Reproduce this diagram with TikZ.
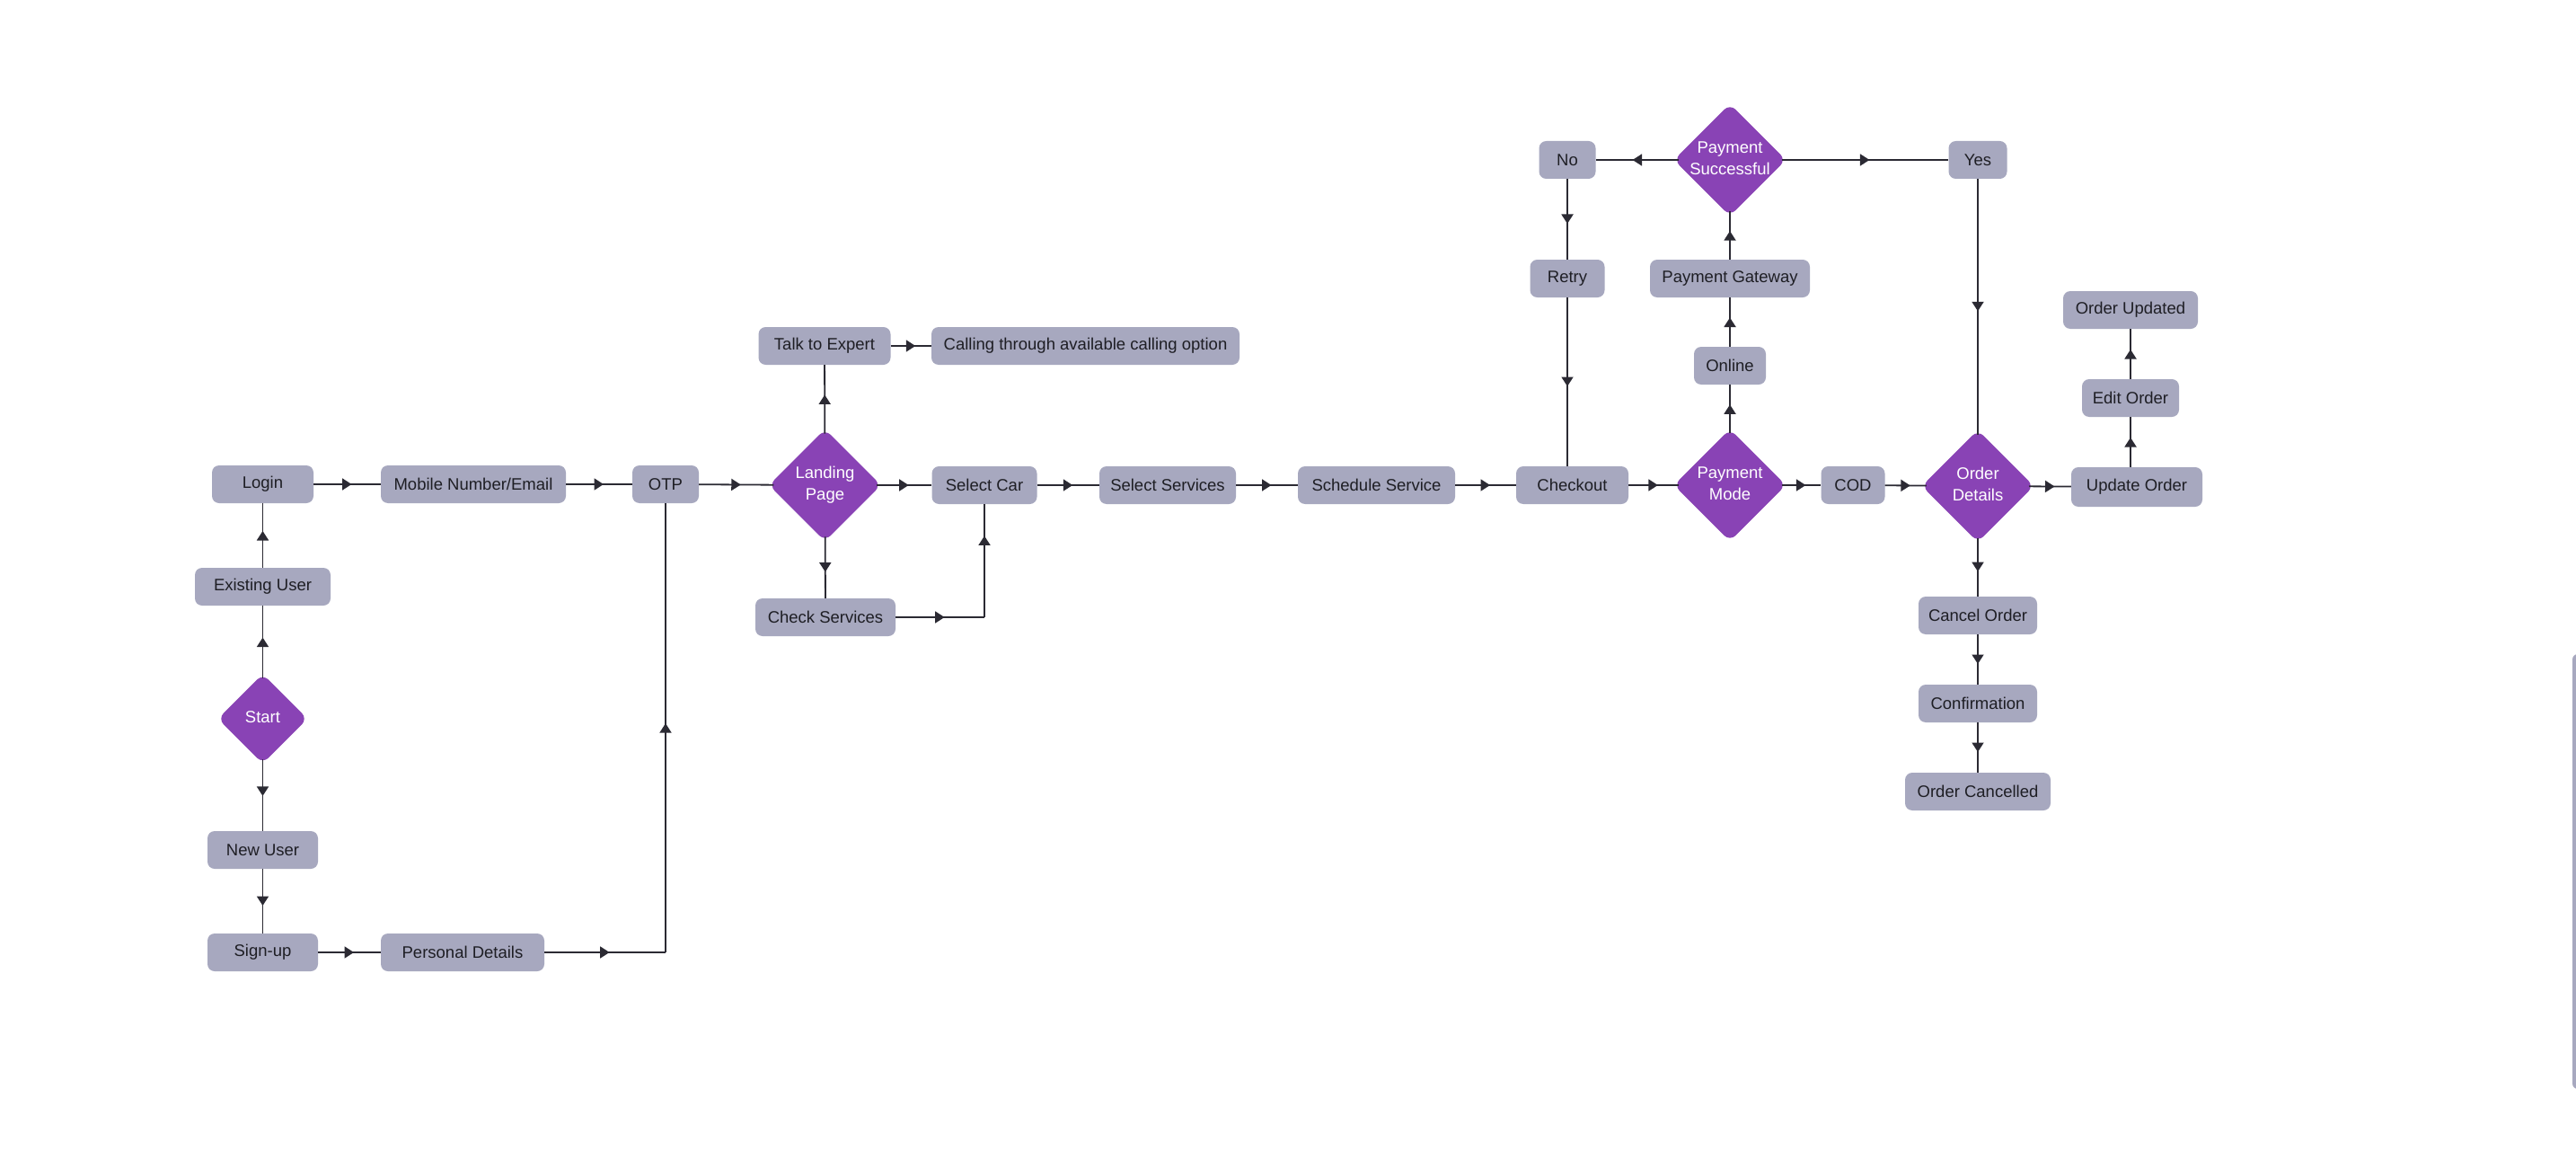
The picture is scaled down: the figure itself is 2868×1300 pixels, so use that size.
\documentclass[tikz,border=0pt]{standalone}
\usepackage{fontspec}
\setmainfont{Liberation Sans}
\usepackage{tikz}
\usetikzlibrary{shapes.geometric,arrows.meta,decorations.markings}
\definecolor{fcink}{HTML}{1E1E24}
\definecolor{fcline}{HTML}{2B2A33}
\definecolor{fcgrey}{HTML}{A7A8BF}
\definecolor{fcpurple}{HTML}{8943B5}
\tikzstyle{procbox} = [fill=fcgrey, rounded corners=8pt, minimum height=42pt, inner sep=0pt, text=fcink, font=\fontsize{18.5}{24}\selectfont]
\tikzstyle{decision} = [shape=diamond, aspect=1, fill=fcpurple, rounded corners=9pt, minimum width=122pt, minimum height=122pt, inner sep=0pt, outer sep=-3.5pt, text=white, font=\fontsize{18.5}{24}\selectfont]
\newcommand{\dtxt}[1]{\makebox[0pt]{\begin{tabular}{@{}c@{}}#1\end{tabular}}}
\tikzset{
  % the head sits part way along every straight run, not at the end
  flow/.style={draw=fcline, color=fcline, line width=1.8pt, postaction={decorate},
    decoration={markings, mark=at position #1 with {\arrow[xshift=5pt]{Triangle[length=10.5pt,width=13pt]}}}},
  flow/.default=0.5,
}

\begin{document}
\begin{tikzpicture}[x=1pt, y=-1pt]
    \useasboundingbox[fill=white] (0,0) rectangle (2868,1300);
    \draw (292.5,800) node[decision, minimum width=97pt, minimum height=97pt] (start) {\dtxt{Start}};
    \draw (292.5,653) node[procbox, minimum width=151pt] (existing) {Existing User};
    \draw (292.5,539) node[procbox, minimum width=113pt] (login) {Login};
    \draw (292.5,946) node[procbox, minimum width=123pt] (newuser) {New User};
    \draw (292.5,1060) node[procbox, minimum width=123pt] (signup) {Sign-up};
    \draw (527,539) node[procbox, minimum width=206pt] (mobile) {Mobile Number/Email};
    \draw (515,1060) node[procbox, minimum width=182pt] (personal) {Personal Details};
    \draw (741,539) node[procbox, minimum width=74pt] (otp) {OTP};
    \draw (918.5,540) node[decision] (landing) {\dtxt{Landing\\Page}};
    \draw (918,385) node[procbox, minimum width=147pt] (talk) {Talk to Expert};
    \draw (1208.5,385) node[procbox, minimum width=343pt] (calling) {Calling through available calling option};
    \draw (919,687) node[procbox, minimum width=156pt] (checkserv) {Check Services};
    \draw (1096,540) node[procbox, minimum width=117pt] (selcar) {Select Car};
    \draw (1300,540) node[procbox, minimum width=152pt] (selserv) {Select Services};
    \draw (1532.5,540) node[procbox, minimum width=175pt] (schedule) {Schedule Service};
    \draw (1750.5,540) node[procbox, minimum width=125pt] (checkout) {Checkout};
    \draw (1926,540) node[decision] (paymode) {\dtxt{Payment\\Mode}};
    \draw (2063,540) node[procbox, minimum width=71pt] (cod) {COD};
    \draw (2202,541) node[decision] (orderdet) {\dtxt{Order\\Details}};
    \draw (2379,542) node[procbox, minimum width=146pt, minimum height=44pt] (update) {Update Order};
    \draw (2372,443) node[procbox, minimum width=108pt] (edit) {Edit Order};
    \draw (2372,345) node[procbox, minimum width=150pt] (updated) {Order Updated};
    \draw (2202,685) node[procbox, minimum width=132pt] (cancel) {Cancel Order};
    \draw (2202,783) node[procbox, minimum width=132pt] (confirm) {Confirmation};
    \draw (2202,881) node[procbox, minimum width=162pt] (cancelled) {Order Cancelled};
    \draw (1926,407) node[procbox, minimum width=80pt] (online) {Online};
    \draw (1926,310) node[procbox, minimum width=178pt] (gateway) {Payment Gateway};
    \draw (1926,178) node[decision] (paysucc) {\dtxt{Payment\\Successful}};
    \draw (1745,178) node[procbox, minimum width=63pt] (no) {No};
    \draw (1745,310) node[procbox, minimum width=83pt] (retry) {Retry};
    \draw (2202,178) node[procbox, minimum width=65pt] (yes) {Yes};
    \coordinate (pdturn) at (otp |- personal);
    \coordinate (csturn) at (selcar |- checkserv);
    \fill[fcgrey, rounded corners=6pt] (2864,728) rectangle (2920,1212);
    \draw[flow] (start) -- (existing);
    \draw[flow] (existing) -- (login);
    \draw[flow=0.45] (start) -- (newuser);
    \draw[flow] (newuser) -- (signup);
    \draw[flow] (login) -- (mobile);
    \draw[flow] (mobile) -- (otp);
    \draw[flow] (signup) -- (personal);
    \draw[flow] (personal) -- (pdturn);
    \draw[flow] (pdturn) -- (otp);
    \draw[flow] (otp) -- (landing);
    \draw[flow] (landing) -- (talk);
    \draw[flow] (talk) -- (calling);
    \draw[flow] (landing) -- (checkserv);
    \draw[flow] (landing) -- (selcar);
    \draw[flow] (checkserv) -- (csturn);
    \draw[flow=0.68] (csturn) -- (selcar);
    \draw[flow] (selcar) -- (selserv);
    \draw[flow] (selserv) -- (schedule);
    \draw[flow] (schedule) -- (checkout);
    \draw[flow] (checkout) -- (paymode);
    \draw[flow] (paymode) -- (cod);
    \draw[flow] (cod) -- (orderdet);
    \draw[flow] (orderdet) -- (update);
    \draw[flow] (paymode) -- (online);
    \draw[flow] (online) -- (gateway);
    \draw[flow] (gateway) -- (paysucc);
    \draw[flow] (paysucc) -- (no);
    \draw[flow] (paysucc) -- (yes);
    \draw[flow] (no) -- (retry);
    \draw[flow] (retry) -- (retry |- checkout.north);
    \draw[flow] (yes) -- (orderdet);
    \draw[flow] (orderdet) -- (cancel);
    \draw[flow] (cancel) -- (confirm);
    \draw[flow] (confirm) -- (cancelled);
    \draw[flow] (edit |- update.north) -- (edit);
    \draw[flow] (edit) -- (updated);
\end{tikzpicture}
\end{document}
